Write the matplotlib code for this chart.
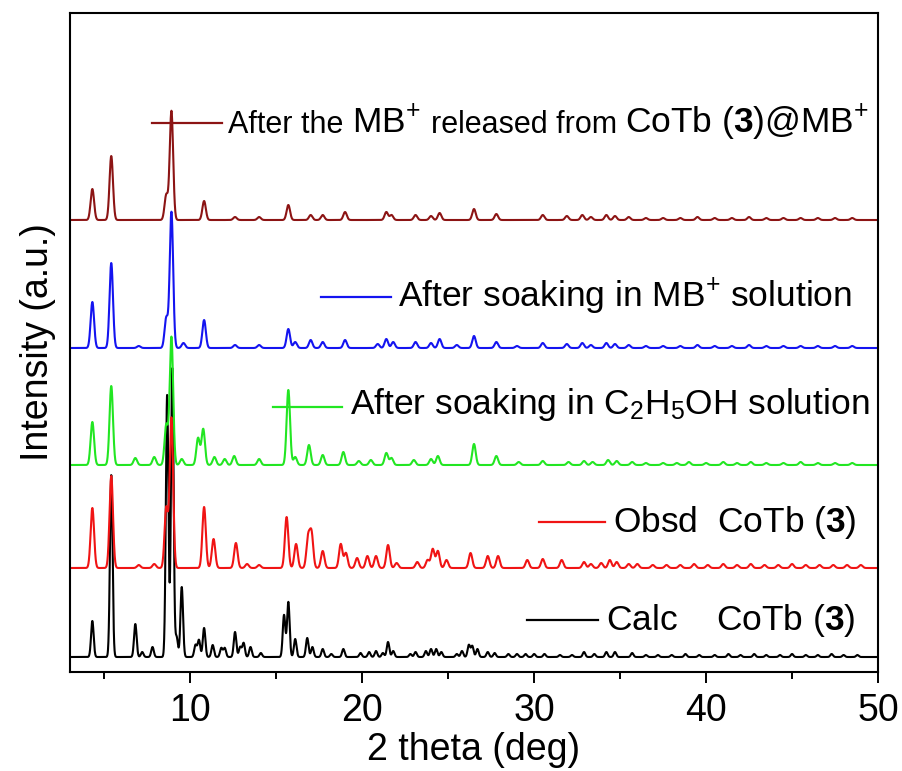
import numpy as np
import matplotlib
matplotlib.use("Agg")
import matplotlib.pyplot as plt
from matplotlib.transforms import offset_copy

plt.rcParams["font.family"] = ["Liberation Sans", "DejaVu Sans"]
plt.rcParams["mathtext.fontset"] = "custom"
plt.rcParams["mathtext.rm"] = "Liberation Sans"
plt.rcParams["mathtext.it"] = "Liberation Sans:italic"
plt.rcParams["mathtext.bf"] = "Liberation Sans:bold"
plt.rcParams["mathtext.default"] = "regular"

# peak positions (2 theta, deg) and heights (a.u.)
calc_pos = [4.3, 5.4, 6.8, 7.2, 7.8, 8.65, 8.95, 9.2, 9.5, 10.3, 10.5, 10.8, 11.3, 11.8, 12.0,
            12.6, 12.9, 13.1, 13.5, 14.1, 15.45, 15.7, 16.1, 16.8, 17.1, 17.7, 18.2, 18.9,
            19.9, 20.4, 20.8, 21.2, 21.5, 21.8, 22.8, 23.1, 23.7, 24.0, 24.3, 24.6, 25.5,
            25.8, 26.2, 26.4, 26.7, 27.3, 27.7, 28.5, 29.0, 29.5, 30.0, 30.6, 31.5, 32.2,
            32.9, 33.5, 34.2, 34.7, 35.7, 36.5, 37.2, 38.0, 38.8, 39.6, 40.5, 41.3, 42.0,
            42.8, 43.5, 44.3, 45.0, 45.8, 46.5, 47.3, 48.0, 48.8]
calc_int = [36, 182, 33, 5, 10, 262, 289, 20, 70, 12, 17, 29, 12, 9, 9,
            25, 10, 14, 10, 4, 42, 55, 18, 19, 10, 8, 3, 8,
            4, 5, 6, 4, 15, 6, 3, 5, 6, 8, 8, 5, 3,
            6, 12, 11, 8, 5, 4, 3, 3, 3, 3, 3, 2, 2,
            5, 3, 5, 5, 4, 2, 2, 2, 3, 2, 2, 3, 2,
            3, 2, 2, 3, 2, 2, 3, 2, 2]

obsd_pos = [4.3, 5.4, 7.0, 7.9, 8.6, 8.9, 10.8, 11.35, 12.65, 13.3, 14.0, 15.6, 16.15,
            16.85, 17.05, 17.7, 18.75, 19.05, 19.7, 20.3, 20.8, 21.5, 22.0, 23.2, 23.8,
            24.1, 24.4, 24.9, 26.3, 27.3, 27.9, 29.6, 30.5, 31.6, 32.9, 33.3, 33.9, 34.4,
            34.8, 35.5, 36.0, 36.9, 37.7, 38.5, 39.3, 40.1, 41.0, 41.8, 42.6, 43.4, 44.2,
            45.0, 45.8, 46.6, 47.4, 48.2, 49.0]
obsd_int = [60, 92, 3, 4, 60, 150, 61, 29, 25, 4, 3, 51, 24,
            30, 34, 17, 24, 15, 10, 12, 12, 23, 5, 6, 8,
            19, 17, 8, 15, 12, 12, 8, 9, 8, 6, 4, 5, 8,
            6, 4, 4, 3, 3, 3, 4, 3, 4, 3, 4, 3, 3,
            4, 3, 3, 3, 3, 3]

etoh_pos = [4.3, 5.4, 6.8, 7.9, 8.6, 8.9, 9.5, 10.45, 10.75, 11.4, 12.0, 12.55, 14.0, 15.7,
            16.1, 16.9, 17.7, 18.9, 19.8, 20.5, 21.4, 21.7, 23.0, 24.0, 24.4, 26.5, 27.8,
            29.1, 30.5, 32.0, 32.9, 33.4, 34.3, 34.8, 35.7, 36.5, 37.5, 38.3, 39.0, 40.0,
            41.0, 41.8, 42.6, 43.5, 44.5, 45.5, 46.5, 47.5, 48.5]
etoh_int = [43, 79, 7, 8, 40, 128, 6, 27, 36, 8, 6, 9, 6, 75,
            8, 20, 10, 13, 4, 5, 12, 7, 5, 6, 9, 21, 9,
            3, 4, 3, 4, 3, 5, 4, 3, 2, 2, 2, 3, 2,
            3, 2, 3, 2, 2, 3, 2, 2, 2]

mb_pos = [4.3, 5.4, 7.0, 8.6, 8.9, 9.6, 10.8, 12.6, 14.0, 15.7, 16.1, 17.0, 17.7, 19.0,
          20.9, 21.4, 21.8, 23.1, 24.0, 24.5, 25.5, 26.5, 27.8, 29.0, 30.5, 31.9, 32.8,
          33.3, 34.2, 34.7, 35.5, 36.5, 37.5, 38.5, 39.5, 40.5, 41.5, 42.5, 43.5, 44.5,
          45.5, 46.5, 47.5, 48.5]
mb_int = [46, 85, 2, 30, 136, 5, 28, 3, 3, 19, 6, 8, 6, 8,
          4, 9, 6, 6, 5, 9, 3, 12, 6, 2, 5, 4, 5,
          3, 5, 4, 3, 2, 2, 2, 3, 2, 2, 3, 2, 2,
          2, 2, 2, 2]

rel_pos = [4.3, 5.4, 8.6, 8.9, 10.8, 12.6, 14.0, 15.7, 17.0, 17.7, 19.0, 21.4, 21.7, 23.1,
           24.0, 24.5, 26.5, 27.8, 30.5, 31.9, 32.8, 33.3, 34.2, 34.7, 35.5, 36.5, 37.5,
           38.5, 39.5, 40.5, 41.5, 42.5, 43.5, 44.5, 45.5, 46.5, 47.5, 48.5]
rel_int = [31, 64, 25, 109, 19, 3, 3, 15, 5, 5, 8, 8, 5, 5,
           4, 7, 11, 6, 5, 4, 5, 3, 5, 4, 3, 2, 2,
           2, 3, 2, 2, 3, 2, 2, 2, 2, 2, 2]

labels = [r"Calc    CoTb ($\mathbf{3}$)",
          r"Obsd  CoTb ($\mathbf{3}$)",
          r"After soaking in C$_2$H$_5$OH solution",
          r"After soaking in MB$^{+}$ solution",
          None]
top_label = [("After the", 22), ("MB$^{+}$", 25.5), ("released from", 22),
             (r"CoTb ($\mathbf{3}$)@MB$^{+}$", 25.5)]

patterns = [(calc_pos, calc_int), (obsd_pos, obsd_int), (etoh_pos, etoh_int),
            (mb_pos, mb_int), (rel_pos, rel_int)]
colors = ["black", "#f01414", "#22e622", "#1414f0", "#8c1414"]
offsets = [0, 89, 192, 309, 437]
widths = [0.075, 0.1, 0.1, 0.1, 0.1]
# legend sample line (x0, x1, y) and text anchor (x, y baseline)
keys = [(29.6, 33.7, 37, 34.2, 27),
        (30.3, 34.1, 135, 34.6, 125),
        (14.8, 18.8, 250, 19.3, 243),
        (17.6, 21.65, 360, 22.1, 350),
        (7.75, 11.85, 534, 12.2, 524)]

tt = np.linspace(3, 50, 6000)

fig = plt.figure(figsize=(9.03, 7.71), dpi=100)
ax = fig.add_axes([70 / 903, 1 - 672 / 771, 808 / 903, 659 / 771])

for (pos, hts), c, off, w in zip(patterns, colors, offsets, widths):
    y = np.full_like(tt, off, dtype=float)
    for p, h in zip(pos, hts):
        y += h * np.exp(-0.5 * ((tt - p) / w) ** 2)
    ax.plot(tt, y, color=c, lw=1.5)

for (x0, x1, ly, tx, ty), c, lab in zip(keys, colors, labels):
    ax.plot([x0, x1], [ly, ly], color=c, lw=1.6)
    if lab is not None:
        ax.text(tx, ty, lab, fontsize=25.5, va="baseline", ha="left")

# top label mixes two font sizes, so place the pieces one after another
r = fig.canvas.get_renderer()
tx, ty = keys[4][3], keys[4][4]
dx = 0
for s, size in top_label:
    tr = offset_copy(ax.transData, fig=fig, x=dx, y=0, units="dots")
    t = ax.text(tx, ty, s, fontsize=size, va="baseline", ha="left", transform=tr)
    dx += t.get_window_extent(r).width + 0.278 * size * fig.dpi / 72

ax.set_xlim(3, 50)
ax.set_ylim(-15, 644)
ax.set_xticks([10, 20, 30, 40, 50])
ax.set_xticks([5, 15, 25, 35, 45], minor=True)
ax.set_yticks([])
ax.tick_params(axis="x", which="major", direction="out", length=8, width=1.4,
               labelsize=27, pad=7)
ax.tick_params(axis="x", which="minor", direction="out", length=5, width=1.4)
for sp in ax.spines.values():
    sp.set_linewidth(1.5)
ax.set_xlabel("2 theta (deg)", fontsize=27, labelpad=2)
ax.set_ylabel("Intensity (a.u.)", fontsize=27, labelpad=10)

fig.savefig("out.png", dpi=100)
